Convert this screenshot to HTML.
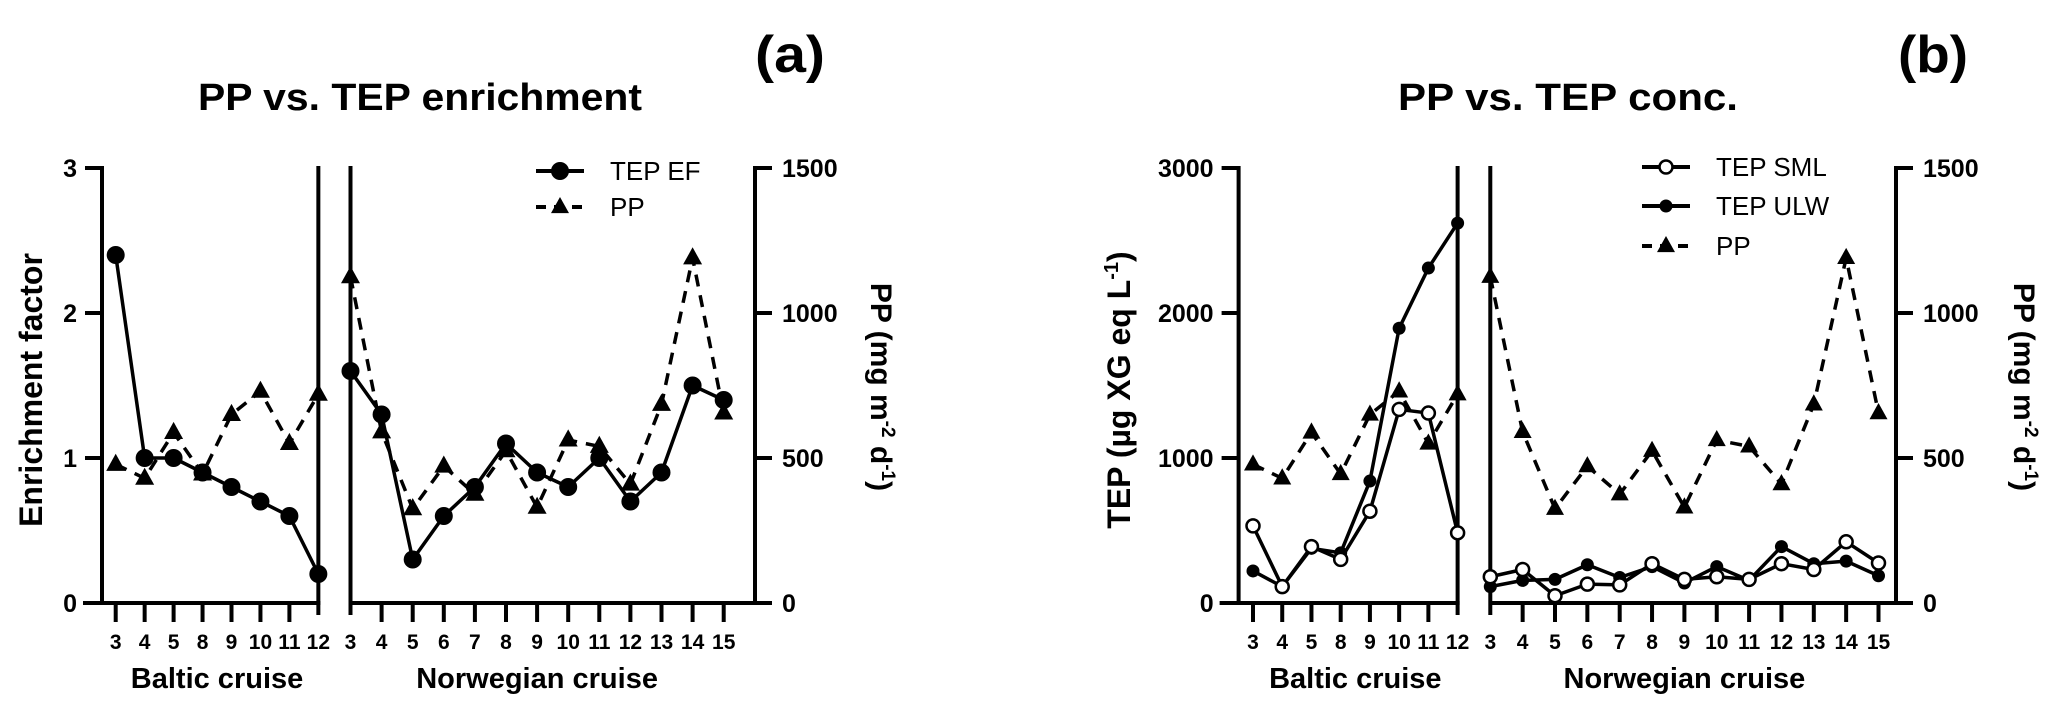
<!DOCTYPE html>
<html><head><meta charset="utf-8">
<style>
html,body{margin:0;padding:0;background:#fff;}
svg{display:block;font-family:"Liberation Sans",Arial,sans-serif;}
</style></head>
<body>
<svg id="fig" xmlns="http://www.w3.org/2000/svg" width="2067" height="712" viewBox="0 0 2067 712">
  <g id="static" fill="#000"></g>
  <g id="marks"></g>
</svg>
<script>
// ---- data ----
const balticStations = ["3","4","5","8","9","10","11","12"];
const norwStations = ["3","4","5","6","7","8","9","10","11","12","13","14","15"];
const efBaltic = [2.4,1.0,1.0,0.9,0.8,0.7,0.6,0.2];
const efNorw = [1.6,1.3,0.3,0.6,0.8,1.1,0.9,0.8,1.0,0.7,0.9,1.5,1.4];
const ppBaltic = [478,430,588,445,650,730,550,720];
const ppNorw = [1125,590,325,472,375,525,330,562,540,410,685,1190,655];
const smlBaltic = [532,113,389,301,633,1335,1310,484];
const smlNorw = [181,231,50,130,125,271,163,181,163,271,231,422,276];
const ulwBaltic = [221,113,377,346,841,1895,2310,2620];
const ulwNorw = [113,156,163,264,176,251,138,251,156,389,271,289,188];
const efTicks = ["0","1","2","3"];
const tepTicks = ["0","1000","2000","3000"];
const ppTicks = ["0","500","1000","1500"];

const NS="http://www.w3.org/2000/svg";
const svg=document.getElementById('fig');
const stat=document.getElementById('static');
const marks=document.getElementById('marks');
function el(tag,attrs,parent,text){const e=document.createElementNS(NS,tag);for(const k in attrs)e.setAttribute(k,attrs[k]);if(text!==undefined)e.textContent=text;(parent||stat).appendChild(e);return e;}

const Y0=603, YT=168;
function yScale(max){return v=>Y0-v/max*(Y0-YT);}

function line(x1,y1,x2,y2,w,parent){return el('line',{x1,y1,x2,y2,stroke:'#000','stroke-width':w||4},parent);}

function panel(cfg){
  const g=el('g',{});
  
  
  const yL=yScale(cfg.leftMax), yR=yScale(1500);
  const bx=i=>cfg.bx0+cfg.bdx*i, nx=i=>cfg.nx0+cfg.ndx*i;
  const bEnd=bx(balticStations.length-1);
  // left axis
  line(cfg.ax,YT-2,cfg.ax,Y0+2,4,g);
  cfg.leftTicks.forEach((t,i)=>{const y=yL(+t);line(cfg.ax-17,y,cfg.ax,y,4,g);
    const tx=el('text',{x:cfg.ax-25,y:y+9,'text-anchor':'end','font-size':25,'font-weight':'bold'},g,t);
    
    });
  // baltic x axis
  line(cfg.ax-19,Y0,bEnd+2,Y0,4,g);
  line(bEnd,YT-2,bEnd,615,4,g);
  balticStations.forEach((s,i)=>{if(i<balticStations.length-1)line(bx(i),Y0,bx(i),622,4,g);
    const t=el('text',{x:bx(i),y:649,'text-anchor':'middle','font-size':21,'font-weight':'bold'},g,s);
    
    });
  // norwegian
  line(cfg.nx0,YT-2,cfg.nx0,615,4,g);
  line(cfg.nx0,Y0,cfg.rx+2,Y0,4,g);
  norwStations.forEach((s,i)=>{if(i>0)line(nx(i),Y0,nx(i),622,4,g);
    const t=el('text',{x:nx(i),y:649,'text-anchor':'middle','font-size':21,'font-weight':'bold'},g,s);
    
    });
  // right axis
  line(cfg.rx,YT-2,cfg.rx,Y0+2,4,g);
  ppTicks.forEach(t=>{const y=yR(+t);line(cfg.rx,y,cfg.rx+17,y,4,g);
    const tx=el('text',{x:cfg.rx+27,y:y+9,'font-size':25,'font-weight':'bold'},g,t);
    
    });
  // axis titles
  const bt=el('text',{x:(cfg.bx0+bEnd)/2,y:688,'text-anchor':'middle','font-size':29,'font-weight':'bold'},g,'Baltic cruise');
  
  
  const nt=el('text',{x:(cfg.nx0+nx(12))/2,y:688,'text-anchor':'middle','font-size':29,'font-weight':'bold'},g,'Norwegian cruise');
  
  
  const yl=el('text',{x:0,y:0,'text-anchor':'middle','font-size':32,'font-weight':'bold',transform:`translate(${cfg.ylx},390) rotate(-90)`},g);
  
  
  yl.innerHTML=cfg.ylabel;
  const rl=el('text',{x:0,y:0,'text-anchor':'middle','font-size':30,'font-weight':'bold',transform:`translate(${cfg.rlx},387) rotate(90)`},g);
  
  
  rl.innerHTML='PP (mg m<tspan font-size="19" dy="-11">-2</tspan><tspan dy="11"> d</tspan><tspan font-size="19" dy="-11">-1</tspan><tspan dy="11">)</tspan>';
  // titles
  const ti=el('text',{x:cfg.titleX,y:110,'text-anchor':'middle','font-size':38,'font-weight':'bold',textLength:cfg.titleW,lengthAdjust:'spacingAndGlyphs'},g,cfg.title);
  
  
  const lt=el('text',{x:cfg.letterX,y:72,'font-size':52,'font-weight':'bold',textLength:70,lengthAdjust:'spacingAndGlyphs'},g,cfg.letter);
  
  
  return {yL,yR,bx,nx};
}

function tri(x,y,s,parent){const h=s*0.9;return el('polygon',{points:`${x},${y-h*0.62} ${x-s/2},${y+h*0.38} ${x+s/2},${y+h*0.38}`,fill:'#000'},parent);}

function series(vals,xf,yf,opts,name){
  const g=el('g',{},marks);
  
  
  const pts=vals.map((v,i)=>[xf(i),yf(v)]);
  el('polyline',{points:pts.map(p=>p.join(',')).join(' '),fill:'none',stroke:'#000','stroke-width':3.5,'stroke-dasharray':opts.dash||'none','stroke-linejoin':'round'},g);
  pts.forEach(p=>{
    let m;
    if(opts.marker==='tri') m=tri(p[0],p[1],opts.size,g);
    else if(opts.marker==='open') m=el('circle',{cx:p[0],cy:p[1],r:opts.size,fill:'#fff',stroke:'#000','stroke-width':2.5},g);
    else m=el('circle',{cx:p[0],cy:p[1],r:opts.size,fill:'#000'},g);
    
    
  });
}

// Panel a
const A=panel({name:'panel-a',leftMax:3,leftTicks:efTicks,ax:102,bx0:115.7,bdx:28.95,nx0:350.5,ndx:31.1,rx:755,
  ylx:42,rlx:871,ylabel:'Enrichment factor',title:'PP vs. TEP enrichment',titleX:420,titleW:444,letter:'(a)',letterX:755});
series(ppBaltic,A.bx,A.yR,{marker:'tri',size:19,dash:'12 9'},'pp-baltic-a');
series(ppNorw,A.nx,A.yR,{marker:'tri',size:19,dash:'12 9'},'pp-norwegian-a');
series(efBaltic,A.bx,A.yL,{marker:'filled',size:9},'tep-ef-baltic');
series(efNorw,A.nx,A.yL,{marker:'filled',size:9},'tep-ef-norwegian');

// Panel b
const B=panel({name:'panel-b',leftMax:3000,leftTicks:tepTicks,ax:1238.6,bx0:1253,bdx:29.23,nx0:1490.3,ndx:32.35,rx:1896,
  ylx:1130,rlx:2014,ylabel:'TEP (µg XG eq L<tspan font-size="20" dy="-12">-1</tspan><tspan dy="12">)</tspan>',title:'PP vs. TEP conc.',titleX:1568,titleW:340,letter:'(b)',letterX:1898});
series(ppBaltic,B.bx,B.yR,{marker:'tri',size:18,dash:'12 9'},'pp-baltic-b');
series(ppNorw,B.nx,B.yR,{marker:'tri',size:18,dash:'12 9'},'pp-norwegian-b');
series(ulwBaltic,B.bx,B.yL,{marker:'filled',size:6.5},'tep-ulw-baltic');
series(ulwNorw,B.nx,B.yL,{marker:'filled',size:6.5},'tep-ulw-norwegian');
series(smlBaltic,B.bx,B.yL,{marker:'open',size:6.5},'tep-sml-baltic');
series(smlNorw,B.nx,B.yL,{marker:'open',size:6.5},'tep-sml-norwegian');

// Legends
function legendEntry(x,y,label,marker,dash,size,name){
  const g=el('g',{});
  
  
  el('line',{x1:x,y1:y,x2:x+48,y2:y,stroke:'#000','stroke-width':4,'stroke-dasharray':dash||'none'},g);
  const cx=x+24;
  if(marker==='tri') tri(cx,y,size*2,g);
  else if(marker==='open') el('circle',{cx,cy:y,r:size,fill:'#fff',stroke:'#000','stroke-width':2.5},g);
  else el('circle',{cx,cy:y,r:size,fill:'#000'},g);
  el('text',{x:x+74,y:y+9,'font-size':26},g,label);
}
legendEntry(536,171,'TEP EF','filled','',9,'legend-tep-ef');
legendEntry(536,207,'PP','tri','10 8',9,'legend-pp-a');
legendEntry(1642,167,'TEP SML','open','',6.5,'legend-tep-sml');
legendEntry(1642,206,'TEP ULW','filled','',6.5,'legend-tep-ulw');
legendEntry(1642,246,'PP','tri','10 8',9,'legend-pp-b');
</script>
</body></html>
